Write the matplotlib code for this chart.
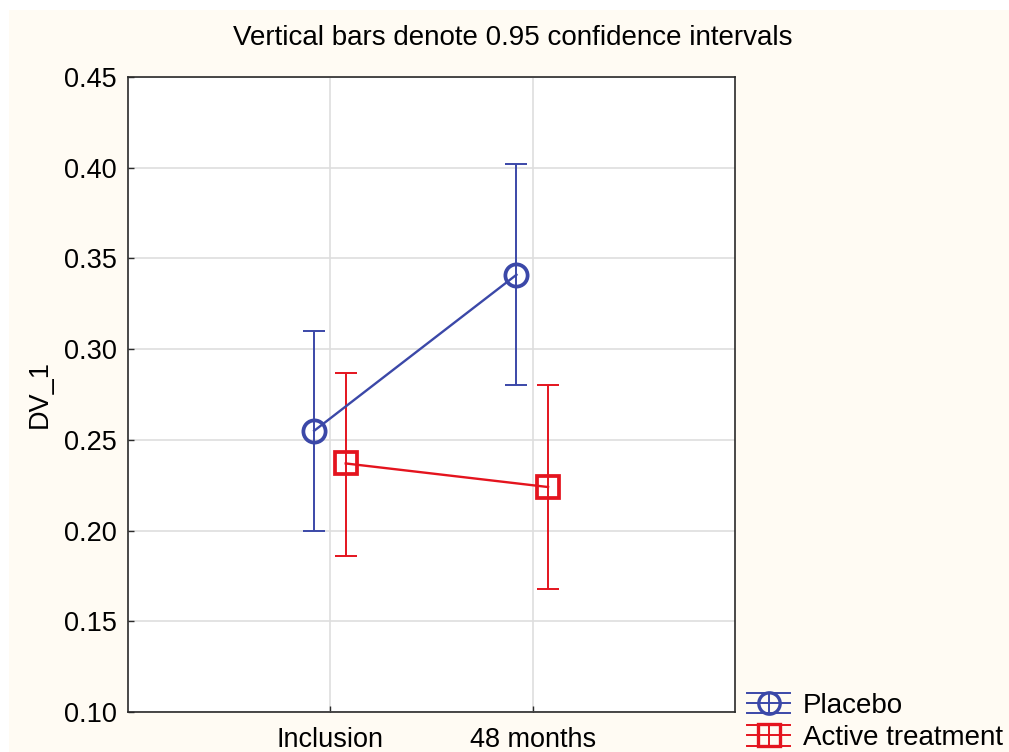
import matplotlib
matplotlib.use("Agg")
import matplotlib.pyplot as plt
from matplotlib.patches import Rectangle
from matplotlib.lines import Line2D
from matplotlib.legend_handler import HandlerBase

plt.rcParams['font.family'] = ['Liberation Sans', 'DejaVu Sans']

# Data: means with 0.95 confidence limits
timepoints = ["Inclusion", "48 months"]
placebo_mean = [0.255, 0.341]
placebo_low = [0.200, 0.280]
placebo_high = [0.310, 0.402]
active_mean = [0.237, 0.224]
active_low = [0.186, 0.168]
active_high = [0.287, 0.280]
series_names = ["Placebo", "Active treatment"]

BLUE = "#3b48a8"
RED = "#e4141e"
CREAM = "#fffbf3"

fig = plt.figure(figsize=(10.09, 7.52), dpi=100, facecolor="white")
fig.patches.append(Rectangle((9 / 1009, 0), 1, 1 - 10 / 752, transform=fig.transFigure,
                             facecolor=CREAM, edgecolor="none", zorder=-10))

ax = fig.add_axes([128 / 1009, 1 - 712 / 752, 607 / 1009, 635 / 752])
ax.set_facecolor("white")

xpos = list(range(1, len(timepoints) + 1))
offset = 0.08


def draw_series(means, low, high, shift, color, marker):
    xs = [x + shift for x in xpos]
    yerr = [[m - l for m, l in zip(means, low)], [h - m for m, h in zip(means, high)]]
    ax.errorbar(xs, means, yerr=yerr, fmt="none", ecolor=color, elinewidth=1.4,
                capsize=7.8, capthick=1.4, zorder=3)
    ax.plot(xs, means, color=color, lw=1.7, zorder=4)
    ax.plot(xs, means, linestyle="none", marker=marker, markersize=16,
            markerfacecolor="none", markeredgecolor=color, markeredgewidth=2.7, zorder=5)


draw_series(placebo_mean, placebo_low, placebo_high, -offset, BLUE, "o")
draw_series(active_mean, active_low, active_high, offset * 0.95, RED, "s")

ax.set_xlim(0, 3)
ax.set_ylim(0.10, 0.45)
ax.set_xticks(xpos)
ax.set_xticklabels(timepoints)
yt = [0.10, 0.15, 0.20, 0.25, 0.30, 0.35, 0.40, 0.45]
ax.set_yticks(yt)
ax.set_yticklabels([f"{v:.2f}" for v in yt])
ax.grid(True, color="#dedede", lw=1.2, zorder=0)
ax.set_axisbelow(True)
for s in ax.spines.values():
    s.set_color("#2a2a2a")
    s.set_linewidth(1.2)
ax.tick_params(axis="both", direction="in", length=4, width=1, color="#2a2a2a",
               labelsize=19.5)
ax.tick_params(axis="x", pad=11)
ax.tick_params(axis="y", pad=8)
ax.set_ylabel("DV_1", fontsize=19.5, labelpad=8)

fig.text(0.508, 1 - 38 / 752, "Vertical bars denote 0.95 confidence intervals",
         ha="center", va="center", fontsize=20)


class HandlerCI(HandlerBase):
    def create_artists(self, legend, orig_handle, xdescent, ydescent, width, height,
                       fontsize, trans):
        color = orig_handle.get_color()
        marker = orig_handle.get_marker()
        x0, x1 = -xdescent, -xdescent + width
        y0, y1 = -ydescent, -ydescent + height
        yc = (y0 + y1) / 2
        xc = (x0 + x1) / 2
        arts = []
        for y in (y0, yc, y1):
            arts.append(Line2D([x0, x1], [y, y], color=color, lw=1.4))
        arts.append(Line2D([xc, xc], [y0, y1], color=color, lw=1.4))
        arts.append(Line2D([xc], [yc], marker=marker, markersize=height * 1.05,
                           markerfacecolor="none", markeredgecolor=color,
                           markeredgewidth=2.4, linestyle="none"))
        for a in arts:
            a.set_transform(trans)
        return arts


handles = [Line2D([], [], color=BLUE, marker="o"), Line2D([], [], color=RED, marker="s")]
leg = fig.legend(handles, series_names, loc="upper left",
                 bbox_to_anchor=(747 / 1009, 1 - 693 / 752), frameon=False,
                 fontsize=20, handlelength=1.55, handleheight=0.75, handletextpad=0.45,
                 labelspacing=0.22, borderpad=0, borderaxespad=0,
                 handler_map={Line2D: HandlerCI()})

fig.savefig("out.png", dpi=100, facecolor=fig.get_facecolor())
